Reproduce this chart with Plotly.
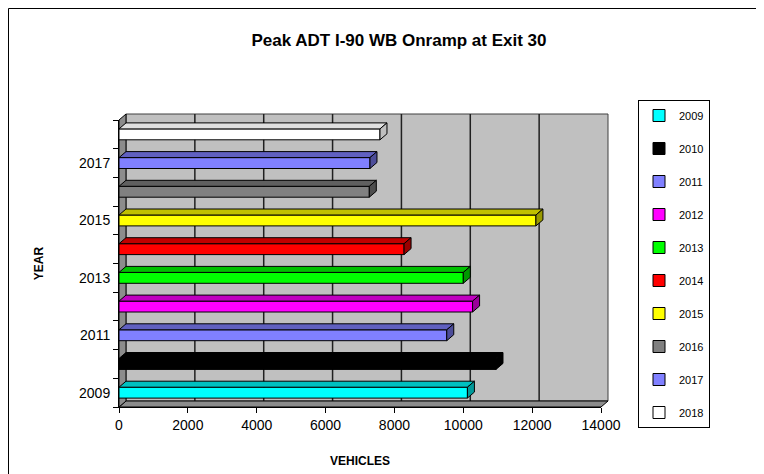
import plotly.graph_objects as go

years = [2009, 2010, 2011, 2012, 2013, 2014, 2015, 2016, 2017, 2018]
vehicles = [10120, 10950, 9520, 10270, 10000, 8280, 12110, 7270, 7290, 7580]
colors = ["#00FFFF", "#000000", "#8080FF", "#FF00FF", "#00FF00",
          "#FF0000", "#FFFF00", "#808080", "#8080FF", "#FFFFFF"]
top_colors = ["#00C0C0", "#000000", "#6060C0", "#C000C0", "#00C000",
              "#C00000", "#C0C000", "#606060", "#6060C0", "#E0E0E0"]
side_colors = ["#009999", "#000000", "#4D4D99", "#990099", "#009900",
               "#990000", "#999900", "#4D4D4D", "#4D4D99", "#BFBFBF"]
x_ticks = [0, 2000, 4000, 6000, 8000, 10000, 12000, 14000]
y_labels = [2009, 2011, 2013, 2015, 2017]

XMAX = 14000
YMIN, YMAX = 2008.5, 2018.5

W, H = 756, 466
L, R, T, B = 111, 163, 112, 67
PW, PH = W - L - R, H - T - B

DXP, DYP = 7, 6                      # depth in pixels
DXN, DYN = DXP / PW, DYP / PH        # depth in paper units
DX = DXN * XMAX                      # depth in data units
DY = DYN * (YMAX - YMIN)
BAR_H = 0.38

fig = go.Figure()
for yr, v, c in zip(years, vehicles, colors):
    fig.add_trace(go.Bar(
        x=[v], y=[yr], orientation="h", name=str(yr), width=BAR_H,
        marker=dict(color=c, line=dict(color="#000000", width=1)),
        legendgroup=str(yr),
    ))

shapes = []
# back wall
shapes.append(dict(type="rect", xref="paper", yref="paper",
                   x0=DXN, x1=1 + DXN, y0=DYN, y1=1 + DYN,
                   fillcolor="#C0C0C0", line=dict(color="#404040", width=1), layer="below"))
# back wall grid lines
for t in x_ticks[1:-1]:
    xp = t / XMAX + DXN
    shapes.append(dict(type="line", xref="paper", yref="paper", x0=xp, x1=xp,
                       y0=DYN, y1=1 + DYN,
                       line=dict(color="#202020", width=1.5), layer="below"))
# floor
shapes.append(dict(type="path", xref="paper", yref="paper",
                   path=f"M 0,0 L 1,0 L {1+DXN},{DYN} L {DXN},{DYN} Z",
                   fillcolor="#8C8C8C", line=dict(color="#000000", width=1), layer="below"))
# left wall
shapes.append(dict(type="path", xref="paper", yref="paper",
                   path=f"M 0,0 L 0,1 L {DXN},{1+DYN} L {DXN},{DYN} Z",
                   fillcolor="#8C8C8C", line=dict(color="#000000", width=1), layer="below"))
# 3D faces of bars
for yr, v, tc, sc in zip(years, vehicles, top_colors, side_colors):
    yt = yr + BAR_H / 2
    yb = yr - BAR_H / 2
    shapes.append(dict(type="path", xref="x", yref="y",
                       path=f"M 0,{yt} L {v},{yt} L {v+DX},{yt+DY} L {DX},{yt+DY} Z",
                       fillcolor=tc, line=dict(color="#000000", width=1), layer="above"))
    shapes.append(dict(type="path", xref="x", yref="y",
                       path=f"M {v},{yb} L {v},{yt} L {v+DX},{yt+DY} L {v+DX},{yb+DY} Z",
                       fillcolor=sc, line=dict(color="#000000", width=1), layer="above"))
# outer chart border
shapes.append(dict(type="rect", xref="paper", yref="paper",
                   x0=(0.5 - L) / PW, x1=(W + 10 - L) / PW,
                   y0=-(B + 10) / PH, y1=(PH + T - 0.5) / PH,
                   line=dict(color="#000000", width=1), fillcolor="rgba(0,0,0,0)", layer="below"))

fig.update_layout(
    width=W, height=H,
    margin=dict(l=L, r=R, t=T, b=B, autoexpand=False),
    paper_bgcolor="#FFFFFF",
    plot_bgcolor="rgba(0,0,0,0)",
    barmode="overlay",
    font=dict(family="Liberation Sans, Arial, sans-serif", size=13, color="#000000"),
    title=dict(text="<b>Peak ADT I-90 WB Onramp at Exit 30</b>",
               x=391 / W, xanchor="center", y=1 - 32 / H, yanchor="middle",
               font=dict(size=17, family="Liberation Sans, Arial, sans-serif")),
    xaxis=dict(range=[0, XMAX], tickvals=x_ticks, tickformat="d", showgrid=False, zeroline=False,
               showline=True, linecolor="#000000", linewidth=1, automargin=False,
               ticks="outside", ticklen=5, tickcolor="#000000", tickfont=dict(size=14),
               title=dict(text="<b>VEHICLES</b>", standoff=24, font=dict(size=12))),
    yaxis=dict(range=[YMIN, YMAX], tickvals=y_labels, showgrid=False, zeroline=False,
               showline=True, linecolor="#000000", linewidth=1, ticks="", automargin=False,
               tickfont=dict(size=14), ticklabelstandoff=5,
               minor=dict(ticks="outside", tick0=YMIN, dtick=1, ticklen=5, tickcolor="#000000"),
               title=dict(text="<b>YEAR</b>", standoff=32, font=dict(size=12))),
    legend=dict(x=(630 - L) / PW, y=(PH + T - 92) / PH, xanchor="left", yanchor="top",
                bordercolor="#000000", borderwidth=1, bgcolor="#FFFFFF",
                traceorder="grouped", tracegroupgap=14, itemwidth=30, maxheight=400,
                font=dict(size=11)),
    shapes=shapes,
    showlegend=True,
)

fig.write_html("out.html")
